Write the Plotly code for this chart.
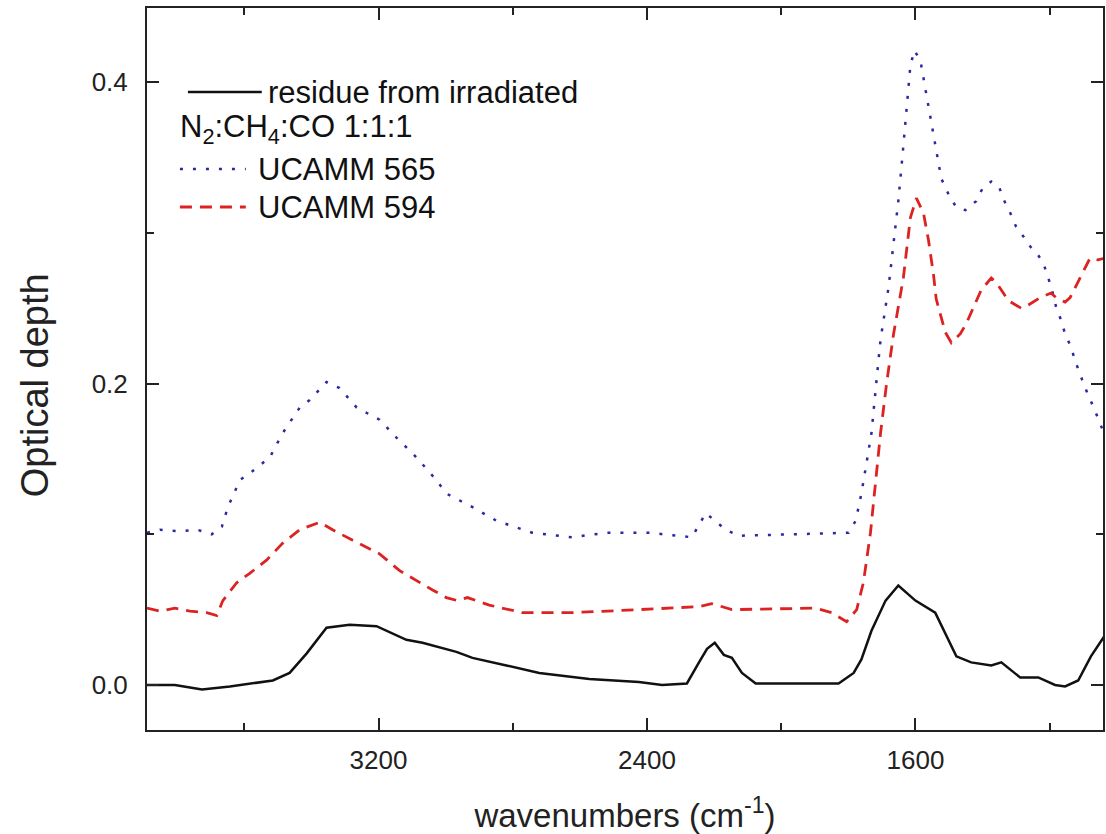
import plotly.graph_objects as go

# ---------------- data ----------------
res_x = [3890, 3807, 3726, 3643, 3515, 3465, 3414, 3355, 3286, 3206, 3117, 3069, 2968, 2920,
         2819, 2721, 2572, 2424, 2355, 2281, 2245, 2221, 2198, 2171, 2147, 2117, 2076, 1829,
         1784, 1761, 1731, 1689, 1651, 1600, 1541, 1502, 1478, 1434, 1374, 1344, 1288, 1234,
         1184, 1154, 1115, 1077, 1038]
res_y = [0.000, 0.000, -0.003, -0.001, 0.003, 0.008, 0.021, 0.038, 0.040, 0.039, 0.030, 0.028,
         0.022, 0.018, 0.013, 0.008, 0.004, 0.002, 0.000, 0.001, 0.015, 0.024, 0.028, 0.020,
         0.018, 0.008, 0.001, 0.001, 0.008, 0.017, 0.036, 0.056, 0.066, 0.056, 0.048, 0.030,
         0.019, 0.015, 0.013, 0.015, 0.005, 0.005, 0.000, -0.001, 0.003, 0.019, 0.032]

u565_x = [3890, 3851, 3792, 3741, 3697, 3667, 3649, 3613, 3575, 3524, 3486, 3435, 3405, 3355,
          3316, 3265, 3197, 3146, 3087, 3028, 2998, 2920, 2849, 2742, 2623, 2522, 2394, 2266,
          2225, 2165, 2126, 1948, 1799, 1778, 1761, 1746, 1731, 1716, 1704, 1680, 1665, 1651,
          1639, 1627, 1615, 1603, 1585, 1570, 1555, 1541, 1523, 1496, 1478, 1451, 1419, 1401,
          1374, 1350, 1335, 1317, 1300, 1273, 1255, 1234, 1219, 1204, 1193, 1181, 1166, 1154,
          1136, 1124, 1094, 1065, 1038]
u565_y = [0.101, 0.103, 0.102, 0.103, 0.100, 0.105, 0.118, 0.136, 0.142, 0.151, 0.167, 0.184,
          0.189, 0.201, 0.197, 0.184, 0.176, 0.164, 0.151, 0.136, 0.127, 0.118, 0.109, 0.101,
          0.098, 0.101, 0.101, 0.098, 0.114, 0.103, 0.099, 0.100, 0.101, 0.109, 0.127, 0.147,
          0.167, 0.202, 0.229, 0.264, 0.293, 0.321, 0.350, 0.381, 0.411, 0.421, 0.414, 0.395,
          0.376, 0.356, 0.336, 0.323, 0.317, 0.315, 0.321, 0.329, 0.334, 0.330, 0.321, 0.313,
          0.304, 0.296, 0.290, 0.285, 0.280, 0.270, 0.262, 0.251, 0.242, 0.233, 0.224, 0.215,
          0.197, 0.182, 0.167]

u594_x = [3890, 3851, 3807, 3762, 3712, 3682, 3664, 3622, 3584, 3533, 3486, 3435, 3375, 3337,
          3277, 3197, 3138, 3078, 3039, 2998, 2965, 2935, 2870, 2772, 2623, 2424, 2245, 2207,
          2147, 1897, 1850, 1805, 1775, 1755, 1734, 1719, 1704, 1686, 1665, 1636, 1615, 1597,
          1576, 1561, 1546, 1538, 1523, 1511, 1493, 1466, 1448, 1428, 1404, 1374, 1359, 1338,
          1323, 1285, 1264, 1228, 1196, 1181, 1154, 1139, 1115, 1080, 1056, 1038]
u594_y = [0.051, 0.049, 0.051, 0.049, 0.048, 0.046, 0.056, 0.068, 0.074, 0.083, 0.094, 0.103,
          0.108, 0.103, 0.096, 0.087, 0.076, 0.068, 0.063, 0.058, 0.056, 0.058, 0.053, 0.048,
          0.048, 0.050, 0.052, 0.054, 0.050, 0.051, 0.048, 0.042, 0.050, 0.068, 0.101, 0.134,
          0.167, 0.200, 0.233, 0.270, 0.310, 0.323, 0.313, 0.295, 0.272, 0.256, 0.244, 0.234,
          0.227, 0.233, 0.240, 0.250, 0.262, 0.270, 0.267, 0.260, 0.255, 0.250, 0.252, 0.257,
          0.260, 0.257, 0.254, 0.257, 0.268, 0.283, 0.282, 0.283]

x_major = [3200, 2400, 1600]
x_minor = [3600, 2800, 2000, 1200]
y_major = [0.0, 0.2, 0.4]
y_major_text = ["0.0", "0.2", "0.4"]
y_minor = [0.1, 0.3]

# ---------------- styling ----------------
W, H = 1106, 834
L, R, T, B = 147, 1, 8, 104
FONT = "Liberation Sans, Arial, sans-serif"
BLACK = "#111111"
BLUE = "#2a2a9e"
RED = "#dd2222"
DOT = "3px,10px"
DASH = "12px,8px"


def px_to_paper(px, py):
    return (px - L) / (W - L - R), (H - B - py) / (H - T - B)


fig = go.Figure()
fig.add_trace(go.Scatter(x=res_x, y=res_y, mode="lines",
                         line=dict(color=BLACK, width=2.5), showlegend=False))
fig.add_trace(go.Scatter(x=u565_x, y=u565_y, mode="lines",
                         line=dict(color=BLUE, width=2.5, dash=DOT), showlegend=False))
fig.add_trace(go.Scatter(x=u594_x, y=u594_y, mode="lines",
                         line=dict(color=RED, width=2.8, dash=DASH), showlegend=False))

axis_common = dict(showline=True, linecolor="#222222", linewidth=2, mirror="ticks",
                   ticks="inside", ticklen=12, tickwidth=2, tickcolor="#222222",
                   showgrid=False, zeroline=False,
                   tickfont=dict(family=FONT, size=26, color="#222222"))

fig.update_layout(
    width=W, height=H,
    margin=dict(l=L, r=R, t=T, b=B),
    paper_bgcolor="white", plot_bgcolor="white",
    showlegend=False,
    xaxis=dict(range=[3890, 1041], tickmode="array", tickvals=x_major,
               minor=dict(tickmode="array", tickvals=x_minor, ticks="inside", ticklen=7,
                          tickwidth=2, tickcolor="#222222"),
               ticklabelstandoff=6,
               title=dict(text="wavenumbers (cm<sup>-1</sup>)",
                          font=dict(family=FONT, size=33, color="#222222"), standoff=30),
               **axis_common),
    yaxis=dict(range=[-0.02985, 0.4491], tickmode="array", tickvals=y_major,
               ticktext=y_major_text,
               minor=dict(tickmode="array", tickvals=y_minor, ticks="inside", ticklen=7,
                          tickwidth=2, tickcolor="#222222"),
               ticklabelstandoff=12,
               **axis_common),
)

# y-axis title placed like the reference
yx, yy = px_to_paper(35, 385)
fig.add_annotation(xref="paper", yref="paper", x=yx, y=yy, text="Optical depth",
                   textangle=-90, showarrow=False, xanchor="center", yanchor="middle",
                   font=dict(family=FONT, size=38, color="#222222"))

# ---------------- legend drawn inside the plot ----------------
legend_rows = [
    (92, "line", BLACK, "", 188, 262, 266, "residue from irradiated", 2.5),
    (129, None, None, None, None, None, 178, "N<sub>2</sub>:CH<sub>4</sub>:CO 1:1:1", 0),
    (169, "line", BLUE, DOT, 180, 246, 256, "UCAMM 565", 2.5),
    (207, "line", RED, DASH, 180, 246, 256, "UCAMM 594", 2.8),
]
for py, kind, col, dash, x0, x1, tx, text, lw in legend_rows:
    if kind:
        a0, b0 = px_to_paper(x0, py)
        a1, _ = px_to_paper(x1, py)
        ln = dict(color=col, width=lw)
        if dash:
            ln["dash"] = dash
        fig.add_shape(type="line", xref="paper", yref="paper", x0=a0, y0=b0, x1=a1, y1=b0,
                      line=ln)
    ax, ay = px_to_paper(tx, py)
    fig.add_annotation(xref="paper", yref="paper", x=ax, y=ay, text=text, showarrow=False,
                       xanchor="left", yanchor="middle",
                       font=dict(family=FONT, size=31, color="#111111"))

fig.write_html("out.html", config={"displayModeBar": False},
               post_script="document.body.style.margin='0px';"
                           "document.body.style.overflow='hidden';")
